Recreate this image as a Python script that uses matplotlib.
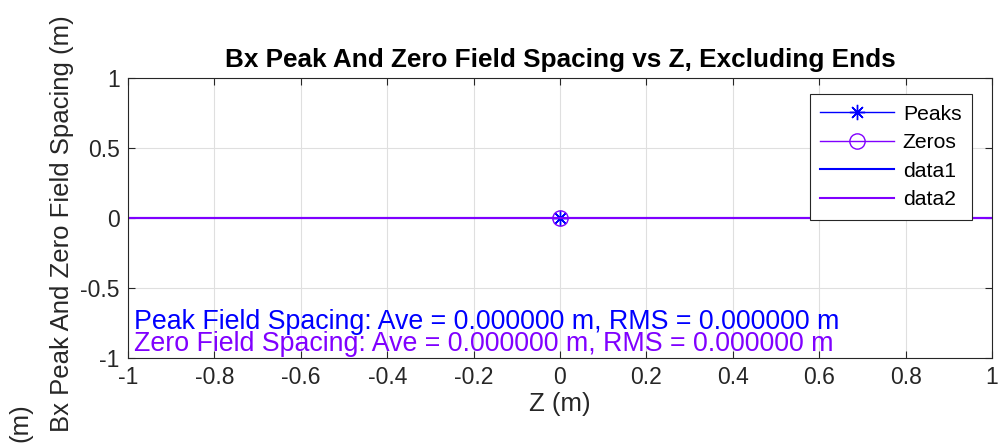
import matplotlib
matplotlib.use('Agg')
import matplotlib.pyplot as plt

# data (everything collapses to zero)
z_line = [-1, 1]
data1 = [0, 0]
data2 = [0, 0]
peak_z = [0]
peak_spacing = [0]
zero_z = [0]
zero_spacing = [0]
ave_peak, rms_peak = 0.0, 0.0
ave_zero, rms_zero = 0.0, 0.0

blue = '#0000FF'
purple = '#8000FF'
asterisk = (8, 2, 0)

plt.rcParams['font.family'] = ['Liberation Sans', 'DejaVu Sans']

fig = plt.figure(figsize=(10.05, 4.43), dpi=100)
ax = fig.add_axes([128/1005, 1 - 358/443, (992-128)/1005, (358-78)/443])

ax.plot(peak_z, peak_spacing, '-', marker=asterisk, color=blue, lw=1, ms=11, mew=1, label='Peaks')
ax.plot(zero_z, zero_spacing, '-o', color=purple, lw=1, ms=11, mew=1, mfc='none', label='Zeros')
ax.plot(z_line, data1, '-', color=blue, lw=1.5, label='data1')
ax.plot(z_line, data2, '-', color=purple, lw=1.5, label='data2')

ax.set_xlim(-1, 1)
ax.set_ylim(-1, 1)
ax.set_xticks([-1, -0.8, -0.6, -0.4, -0.2, 0, 0.2, 0.4, 0.6, 0.8, 1])
ax.set_xticklabels(['-1', '-0.8', '-0.6', '-0.4', '-0.2', '0', '0.2', '0.4', '0.6', '0.8', '1'])
ax.set_yticks([-1, -0.5, 0, 0.5, 1])
ax.set_yticklabels(['-1', '-0.5', '0', '0.5', '1'])
ax.tick_params(direction='in', labelsize=16.5, length=5, color='#262626',
               labelcolor='#262626', top=True, right=True, pad=6)
ax.grid(True, color='#DFDFDF', lw=0.8)
ax.set_axisbelow(True)
for s in ax.spines.values():
    s.set_color('#262626')
    s.set_linewidth(0.8)

ax.set_title('Bx Peak And Zero Field Spacing vs Z, Excluding Ends', fontsize=18.8,
             fontweight='bold', pad=8)
ax.set_xlabel('Z (m)', fontsize=18.5, labelpad=2, color='#262626')
fig.text(62/1005, 1 - 432/443, 'Bx Peak And Zero Field Spacing (m)', rotation=90,
         fontsize=18.5, ha='center', va='bottom', color='#262626')
fig.text(20/1005, 1 - 442/443, '(m)', rotation=90, fontsize=18.5, ha='center', va='bottom',
         color='#262626')

ax.text(-0.985, -0.745, 'Peak Field Spacing: Ave = %f m, RMS = %f m' % (ave_peak, rms_peak),
        color=blue, fontsize=19.3, va='center')
ax.text(-0.985, -0.9, 'Zero Field Spacing: Ave = %f m, RMS = %f m' % (ave_zero, rms_zero),
        color=purple, fontsize=19.3, va='center')

leg = ax.legend(loc='upper right', fontsize=15.2, fancybox=False, framealpha=1,
                edgecolor='#262626', handlelength=3.5, borderaxespad=0, labelspacing=0.45,
                bbox_to_anchor=(972/1005, 1 - 94/443), bbox_transform=fig.transFigure,
                borderpad=0.5, handletextpad=0.4)
leg.get_frame().set_linewidth(0.8)

fig.savefig('out.png', dpi=100)
